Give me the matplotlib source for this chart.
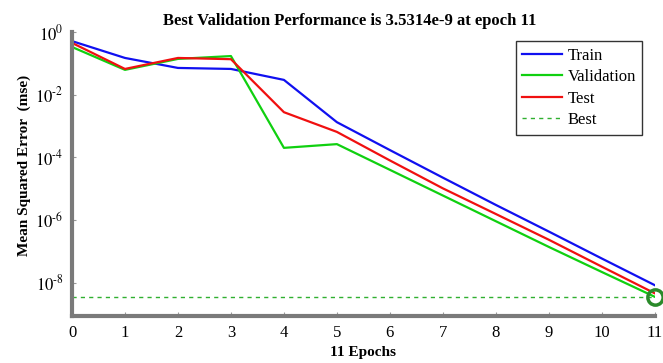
import numpy as np
import matplotlib
matplotlib.use('Agg')
import matplotlib.pyplot as plt
from matplotlib.ticker import FixedLocator, FuncFormatter, NullLocator

epochs = [0, 1, 2, 3, 4, 5, 6, 7, 8, 9, 10, 11]
train_mse = [0.51, 0.148, 0.071, 0.066, 0.0295, 1.32e-3, 1.70e-4, 2.24e-5, 3.02e-6, 4.27e-7, 5.89e-8, 8.3e-9]
val_mse = [0.331, 0.0617, 0.138, 0.170, 2.0e-4, 2.63e-4, 3.98e-5, 6.03e-6, 9.12e-7, 1.38e-7, 2.19e-8, 3.5314e-9]
test_mse = [0.447, 0.066, 0.148, 0.135, 2.75e-3, 6.46e-4, 7.94e-5, 1.02e-5, 1.55e-6, 2.34e-7, 3.24e-8, 4.57e-9]
best_epoch = 11
best_perf = 3.5314e-9
ytick_vals = [1e0, 1e-2, 1e-4, 1e-6, 1e-8]


def decade_label(v, pos):
    e = int(round(np.log10(v)))
    # short hyphen in the exponent, like the original figure
    return r'$10^{%s}$' % (str(e).replace('-', '\u2010'))


plt.rcParams['font.family'] = 'Liberation Serif'
plt.rcParams['mathtext.fontset'] = 'stix'

fig = plt.figure(figsize=(6.63, 3.63), dpi=100)
ax = fig.add_axes([0.1086, 0.129, 0.879, 0.783])

ax.plot(epochs, train_mse, color='#1010f0', lw=1.6, label='Train')
ax.plot(epochs, val_mse, color='#10d010', lw=1.6, label='Validation')
ax.plot(epochs, test_mse, color='#f01010', lw=1.6, label='Test')
ax.axhline(best_perf, color='#30b030', lw=1.0, ls=(0, (3, 3)), label='Best')
ax.plot([best_epoch], [best_perf], 'o', ms=11, mfc='none', mec='#2a8a2a', mew=2.5, clip_on=False)

ax.set_yscale('log')
ax.set_xlim(0, 11)
ax.set_ylim(10**-9.07, 1e0)
ax.set_xticks(epochs)
ax.yaxis.set_major_locator(FixedLocator(ytick_vals))
ax.yaxis.set_minor_locator(NullLocator())
ax.yaxis.set_major_formatter(FuncFormatter(decade_label))
ax.tick_params(direction='in', length=3, color='#999999', labelsize=12, pad=6)
ax.tick_params(axis='y', labelsize=12, pad=6)

for s in ['top', 'right']:
    ax.spines[s].set_visible(False)
for s in ['left', 'bottom']:
    ax.spines[s].set_color('#7a7a7a')
    ax.spines[s].set_linewidth(3)

ax.set_title('Best Validation Performance is 3.5314e-9 at epoch 11', fontsize=12, fontweight='bold', pad=5, x=0.477)
ax.set_xlabel('11 Epochs', fontsize=11, fontweight='bold', labelpad=4)
ax.set_ylabel('Mean Squared Error  (mse)', fontsize=11, fontweight='bold')
ax.yaxis.set_label_coords(-0.07, 0.53)

leg = ax.legend(loc='upper right', bbox_to_anchor=(0.993, 0.998), fontsize=12, frameon=True, fancybox=False,
                handlelength=2.4, handletextpad=0.3, borderpad=0.4, labelspacing=0.33)
leg.get_frame().set_edgecolor('black')
leg.get_frame().set_linewidth(1.0)

fig.savefig('out.png', dpi=100)
